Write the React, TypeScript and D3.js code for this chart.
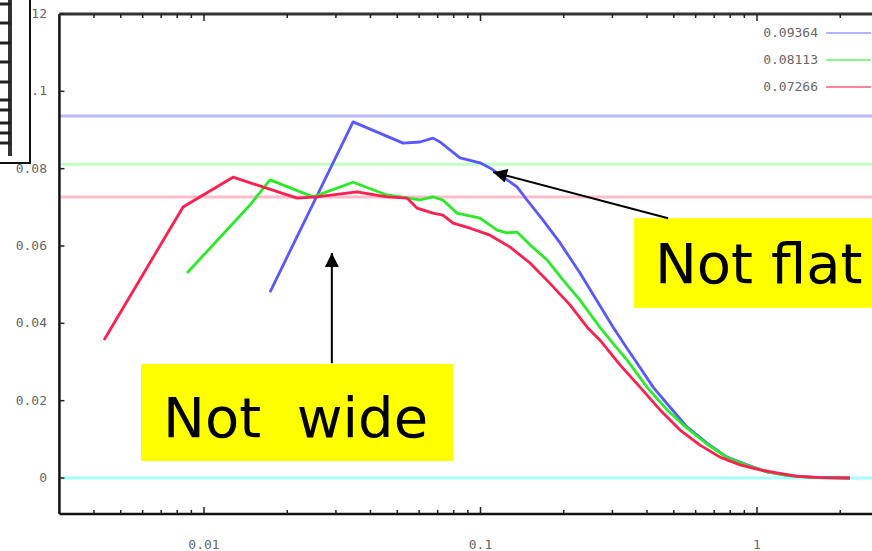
import React from 'react';
import * as d3 from 'd3';

// three runs, labelled by their mean value (drawn as faint reference lines)
const seriesNames = ['0.09364', '0.08113', '0.07266'];
const seriesMeans = [0.09364, 0.08113, 0.07266];
const seriesColors = ['#5858ff', '#2aea2a', '#ff1f4f'];
const meanColors = ['#b9b9ff', '#c2ffc2', '#ffbccb'];
const legendColors = ['#9a9aff', '#66f066', '#ff5a7c'];

const blueX = [0.01733, 0.0346, 0.0525, 0.0604, 0.0673, 0.0714, 0.0843, 0.0996, 0.1082, 0.1177, 0.1355, 0.1473, 0.1683, 0.194, 0.229, 0.264, 0.301, 0.339, 0.362, 0.421, 0.485, 0.558, 0.659, 0.779, 0.92, 1.087, 1.3, 1.6, 2.17];
const blueY = [0.0481, 0.0921, 0.0866, 0.0869, 0.0879, 0.0869, 0.0828, 0.0815, 0.0802, 0.0784, 0.0753, 0.0719, 0.0667, 0.0608, 0.053, 0.0458, 0.0391, 0.0335, 0.0305, 0.0235, 0.0183, 0.0132, 0.009, 0.0054, 0.0034, 0.0016, 0.0006, 0.0002, 0];

const greenX = [0.00868, 0.01466, 0.01733, 0.0248, 0.0346, 0.0459, 0.0604, 0.0673, 0.0731, 0.0822, 0.0996, 0.1148, 0.1246, 0.1355, 0.151, 0.174, 0.199, 0.229, 0.27, 0.301, 0.339, 0.4, 0.473, 0.558, 0.659, 0.779, 0.92, 1.087, 1.3, 1.6, 2.17];
const greenY = [0.053, 0.0706, 0.0771, 0.0727, 0.0765, 0.0732, 0.0719, 0.0727, 0.0719, 0.0685, 0.0672, 0.0641, 0.0634, 0.0636, 0.0603, 0.0564, 0.0512, 0.046, 0.039, 0.0349, 0.0305, 0.0235, 0.0176, 0.0129, 0.0088, 0.0053, 0.0033, 0.0016, 0.0006, 0.0001, 0];

const redX = [0.00435, 0.0084, 0.01273, 0.0217, 0.0256, 0.0357, 0.0459, 0.0542, 0.0589, 0.0673, 0.0731, 0.0796, 0.0917, 0.1082, 0.128, 0.151, 0.178, 0.211, 0.243, 0.27, 0.32, 0.3775, 0.446, 0.527, 0.622, 0.735, 0.868, 1.025, 1.18, 1.4, 1.7, 2.17];
const redY = [0.0357, 0.0701, 0.0778, 0.0724, 0.0727, 0.074, 0.0727, 0.0724, 0.0698, 0.0685, 0.068, 0.0659, 0.0646, 0.0628, 0.0597, 0.0556, 0.0504, 0.0447, 0.039, 0.0357, 0.0292, 0.0235, 0.0176, 0.0124, 0.0085, 0.0054, 0.0034, 0.0021, 0.0013, 0.0004, 0.0001, 0];

const xTickValues = [0.01, 0.1, 1];
const xTickLabels = ['0.01', '0.1', '1'];
const yTickValues = [0, 0.02, 0.04, 0.06, 0.08, 0.1, 0.12];
const yTickLabels = ['0', '0.02', '0.04', '0.06', '0.08', '.1', '.12'];

const W = 872;
const H = 551;

const x = d3.scaleLog().domain([0.01, 1]).range([204, 757]);
const y = d3.scaleLinear().domain([0, 0.12]).range([478, 14]);
const xMin = 0.003;
const xMax = 3;
const yMin = -0.0093;

const line = d3
  .line<[number, number]>()
  .x((d) => x(d[0]))
  .y((d) => y(d[1]));

const zip = (xs: number[], ys: number[]) => xs.map((v, i) => [v, ys[i]] as [number, number]);
const curves = [zip(blueX, blueY), zip(greenX, greenY), zip(redX, redY)];

// minor ticks 2..9 per decade
const minorTicks: number[] = [];
for (let e = -3; e <= 0; e++) {
  for (let m = 1; m <= 9; m++) {
    const v = m * Math.pow(10, e);
    if (v > xMin && v < xMax) minorTicks.push(v);
  }
}

// the clipped scrap of another figure in the top left corner
const scrapTicks = [4, 23, 43, 62, 82, 100, 110, 123, 133, 143];

const labelFont = "'DejaVu Sans Mono', monospace";
const bigFont = "'DejaVu Sans', Verdana, sans-serif";

export default function App() {
  const left = x(xMin);
  const right = x(xMax);
  const top = y(0.12);
  const bottom = y(yMin);

  return (
    <svg
      width={W}
      height={H}
      style={{ position: 'absolute', left: 0, top: 0, background: '#fff' }}
    >
      <defs>
        <marker id="head" viewBox="0 0 10 10" refX="10" refY="5" markerWidth="16" markerHeight="14" markerUnits="userSpaceOnUse" orient="auto">
          <path d="M0,0 L10,5 L0,10 z" fill="#000" />
        </marker>
      </defs>

      {/* mean lines */}
      {seriesMeans.map((m, i) => (
        <line key={'m' + i} x1={left} x2={right} y1={y(m)} y2={y(m)} stroke={meanColors[i]} strokeWidth={3} />
      ))}
      <line x1={left} x2={right} y1={y(0)} y2={y(0)} stroke="#a8ffff" strokeWidth={3} />

      {/* curves */}
      {curves.map((c, i) => (
        <path key={'c' + i} d={line(c) || ''} fill="none" stroke={seriesColors[i]} strokeWidth={2.8} strokeLinejoin="round" />
      ))}

      {/* frame */}
      <line x1={left} x2={left} y1={top} y2={bottom} stroke="#111" strokeWidth={2.5} />
      <line x1={left} x2={right} y1={bottom} y2={bottom} stroke="#111" strokeWidth={2.5} />
      <line x1={left} x2={right} y1={top} y2={top} stroke="#333" strokeWidth={3} />

      {/* x ticks, bottom and mirrored on top */}
      {minorTicks.map((v, i) => {
        const major = xTickValues.some((t) => Math.abs(t - v) < 1e-9);
        const len = major ? 7 : 4;
        return (
          <g key={'xt' + i}>
            <line x1={x(v)} x2={x(v)} y1={bottom} y2={bottom - len} stroke="#222" strokeWidth={1.5} />
            <line x1={x(v)} x2={x(v)} y1={top} y2={top + len} stroke="#222" strokeWidth={1.5} />
          </g>
        );
      })}
      {xTickValues.map((v, i) => (
        <text key={'xl' + i} x={x(v)} y={549} textAnchor="middle" fontFamily={labelFont} fontSize={13} fill="#666">
          {xTickLabels[i]}
        </text>
      ))}

      {/* y ticks */}
      {yTickValues.map((v, i) => (
        <g key={'yt' + i}>
          <line x1={left} x2={left + 5} y1={y(v)} y2={y(v)} stroke="#222" strokeWidth={1.5} />
          <text x={47} y={y(v) + 4} textAnchor="end" fontFamily={labelFont} fontSize={13} fill="#666">
            {yTickLabels[i]}
          </text>
        </g>
      ))}

      {/* legend */}
      {seriesNames.map((n, i) => (
        <g key={'lg' + i}>
          <text x={818} y={33 + i * 27 + 4} textAnchor="end" fontFamily={labelFont} fontSize={13} fill="#666">
            {n}
          </text>
          <line x1={826} x2={871} y1={33 + i * 27} y2={33 + i * 27} stroke={legendColors[i]} strokeWidth={1.6} />
        </g>
      ))}

      {/* scrap in top left corner */}
      <rect x={-2} y={-2} width={32} height={165} fill="#fff" stroke="#111" strokeWidth={2} />
      <line x1={10} x2={10} y1={0} y2={156} stroke="#333" strokeWidth={4} />
      {scrapTicks.map((t, i) => (
        <line key={'s' + i} x1={0} x2={11} y1={t} y2={t} stroke="#222" strokeWidth={3} />
      ))}

      {/* annotations */}
      <rect x={x(0.00592)} y={y(0.0295)} width={x(0.0796) - x(0.00592)} height={y(0.0044) - y(0.0295)} fill="#ffff00" />
      <text x={x(0.00592) + 22} y={437} fontFamily={bigFont} fontSize={56} fill="#000" style={{ whiteSpace: 'pre' }}>
        {'Not  wide'}
      </text>
      <line x1={x(0.029)} x2={x(0.029)} y1={y(0.0297)} y2={y(0.0582)} stroke="#000" strokeWidth={2} markerEnd="url(#head)" />

      <rect x={x(0.359)} y={y(0.0672)} width={W - x(0.359)} height={y(0.044) - y(0.0672)} fill="#ffff00" />
      <text x={x(0.359) + 21} y={283} fontFamily={bigFont} fontSize={56} fill="#000">
        Not flat
      </text>
      <line x1={x(0.477)} y1={y(0.0672)} x2={x(0.111)} y2={y(0.0791)} stroke="#000" strokeWidth={2} markerEnd="url(#head)" />
    </svg>
  );
}
